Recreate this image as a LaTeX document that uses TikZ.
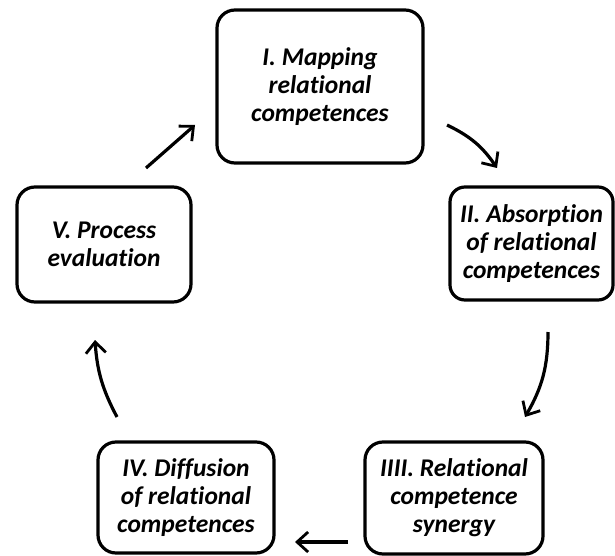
\documentclass[tikz,border=0pt]{standalone}
\usepackage{fontspec}
\setmainfont{Carlito}[Ligatures=NoCommon]
\usetikzlibrary{arrows.meta}
\begin{document}
\begin{tikzpicture}[x=1pt,y=-1pt,
  stage/.style={draw=black, line width=3.2pt, rounded corners=18pt, align=center,
    font=\fontsize{25.5}{28}\selectfont\bfseries\itshape, inner sep=0pt},
  flow/.style={line width=3.2pt, -{Straight Barb[length=11pt,width=20pt,line width=2.8pt]}}]
\useasboundingbox (0,0) rectangle (615,556);
\node[stage, minimum width=206pt, minimum height=153pt] (s1) at (320,86.5) {I. Mapping\\relational\\competences};
\node[stage, minimum width=163pt, minimum height=113pt, rounded corners=15pt] (s2) at (531.5,243.5) {II. Absorption\\of relational\\competences};
\node[stage, minimum width=178pt, minimum height=112pt] (s3) at (454,498) {IIII. Relational\\competence\\synergy};
\node[stage, minimum width=176pt, minimum height=111pt] (s4) at (186,497.5) {IV. Diffusion\\of relational\\competences};
\node[stage, minimum width=174pt, minimum height=115pt] (s5) at (104,244.5) {V. Process\\evaluation};
\coordinate (a1s) at (447,125); \coordinate (a1e) at (497,168);
\coordinate (a2s) at (548,332); \coordinate (a2e) at (525,417);
\coordinate (a3s) at (348,542); \coordinate (a3e) at (295,542);
\coordinate (a4s) at (117,417); \coordinate (a4e) at (95,340);
\coordinate (a5s) at (146,168); \coordinate (a5e) at (195,125);
\draw[flow] (a1s) to[bend left=15] (a1e);
\draw[flow] (a2s) to[bend left=15] (a2e);
\draw[flow] (a3s) -- (a3e);
\draw[flow] (a4s) to[bend left=12] (a4e);
\draw[flow] (a5s) -- (a5e);
\end{tikzpicture}
\end{document}
